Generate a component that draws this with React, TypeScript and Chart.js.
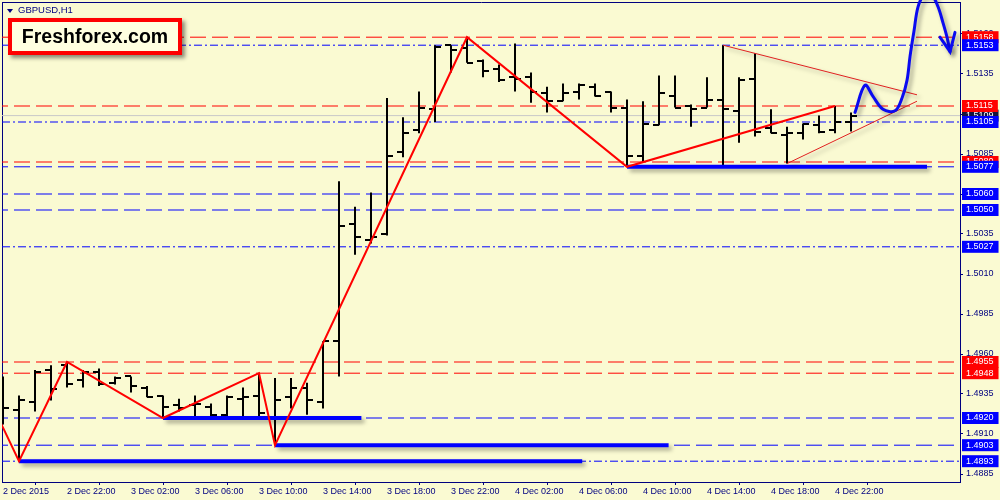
import React, { useEffect, useRef } from 'react';
import { Chart, registerables } from 'chart.js';

Chart.register(...registerables);

// ---- data: hourly GBPUSD bars (bar index 0 = 2 Dec 18:00) ----
const opens = [1.4931, 1.4925, 1.4930, 1.4950, 1.4953, 1.4944, 1.4949, 1.4942, 1.4946, 1.4939,
  1.4934, 1.4928, 1.4928, 1.4927, 1.4922, 1.4932, 1.4934, 1.4920, 1.4933, 1.4939,
  1.4930, 1.4968, 1.5041, 1.5031, 1.5035, 1.5086, 1.5100, 1.5113, 1.5153, 1.5151,
  1.5143, 1.5138, 1.5133, 1.5133, 1.5123, 1.5118, 1.5124, 1.5127, 1.5124, 1.5114,
  1.5084, 1.5103, 1.5121, 1.5115, 1.5114, 1.5119, 1.5112, 1.5132, 1.5101, 1.5097,
  1.5098, 1.5103, 1.5100, 1.5105];
const highs = [1.4946, 1.4934, 1.4950, 1.4953, 1.4955, 1.4950, 1.4951, 1.4946, 1.4946, 1.4940,
  1.4934, 1.4932, 1.4934, 1.4929, 1.4934, 1.4939, 1.4948, 1.4945, 1.4945, 1.4942,
  1.4968, 1.5068, 1.5052, 1.5061, 1.5120, 1.5108, 1.5124, 1.5153, 1.5153, 1.5158,
  1.5144, 1.5141, 1.5154, 1.5136, 1.5127, 1.5129, 1.5129, 1.5129, 1.5124, 1.5119,
  1.5118, 1.5134, 1.5134, 1.5116, 1.5133, 1.5153, 1.5133, 1.5148, 1.5113, 1.5102,
  1.5104, 1.5109, 1.5115, 1.5111];
const lows = [1.4916, 1.4893, 1.4924, 1.4931, 1.4939, 1.4939, 1.4940, 1.4941, 1.4936, 1.4933,
  1.4920, 1.4924, 1.4921, 1.4921, 1.4921, 1.4921, 1.4919, 1.4903, 1.4926, 1.4922,
  1.4926, 1.4946, 1.5022, 1.5029, 1.5034, 1.5083, 1.5098, 1.5105, 1.5136, 1.5142,
  1.5133, 1.5130, 1.5124, 1.5117, 1.5111, 1.5118, 1.5119, 1.5121, 1.5111, 1.5077,
  1.5080, 1.5103, 1.5114, 1.5102, 1.5114, 1.5078, 1.5092, 1.5096, 1.5098, 1.5079,
  1.5094, 1.5098, 1.5098, 1.5099];
const closes = [1.4926, 1.4931, 1.4949, 1.4938, 1.4941, 1.4949, 1.4941, 1.4945, 1.4940, 1.4933,
  1.4927, 1.4926, 1.4929, 1.4922, 1.4933, 1.4933, 1.4923, 1.4931, 1.4939, 1.4931,
  1.4968, 1.5040, 1.5033, 1.5033, 1.5084, 1.5098, 1.5114, 1.5152, 1.5150, 1.5142,
  1.5137, 1.5131, 1.5132, 1.5124, 1.5118, 1.5123, 1.5128, 1.5121, 1.5114, 1.5084,
  1.5104, 1.5123, 1.5114, 1.5113, 1.5119, 1.5113, 1.5131, 1.5099, 1.5098, 1.5098,
  1.5104, 1.5099, 1.5105, 1.5109];

// time axis labels (every 4 bars)
const xTickBars = [0, 4, 8, 12, 16, 20, 24, 28, 32, 36, 40, 44, 48, 52];
const xTickLabels = ['2 Dec 2015', '2 Dec 22:00', '3 Dec 02:00', '3 Dec 06:00', '3 Dec 10:00',
  '3 Dec 14:00', '3 Dec 18:00', '3 Dec 22:00', '4 Dec 02:00', '4 Dec 06:00', '4 Dec 10:00',
  '4 Dec 14:00', '4 Dec 18:00', '4 Dec 22:00'];

// price axis ticks
const yTickValues = [1.5160, 1.5135, 1.5110, 1.5085, 1.5060, 1.5035, 1.5010, 1.4985,
  1.4960, 1.4935, 1.4910, 1.4885];

// horizontal levels
const redLevels = [1.5158, 1.5115, 1.5080, 1.4955, 1.4948];
const blueDashLevels = [1.5077, 1.5060, 1.5050, 1.4920, 1.4903];
const blueDashDotLevels = [1.5153, 1.5105, 1.5027, 1.4893];
const bidLevel = 1.5109;

// thick blue support segments
const supportPrices = [1.4893, 1.4920, 1.4903, 1.5077];
const supportStartBars = [1, 10, 17, 39];
const supportEndBars = [36.2, 22.4, 41.6, 57.75];

// zigzag
const zigzagBars = [-1, 1, 4, 10, 16, 17, 29, 39, 52];
const zigzagPrices = [1.4935, 1.4893, 1.4955, 1.4920, 1.4948, 1.4903, 1.5158, 1.5077, 1.5115];

// triangle
const triUpperBars = [45, 57.125];
const triUpperPrices = [1.5153, 1.5122];
const triLowerBars = [49, 57.125];
const triLowerPrices = [1.5079, 1.5118];

// hand-drawn forecast
const forecastBars = [53.25, 53.875, 54.375, 55.0, 55.75, 56.19, 56.5, 56.69, 56.94, 57.19,
  57.56, 58.06, 58.44, 58.75, 59.0, 59.19];
const forecastPrices = [1.5111, 1.5128, 1.5121, 1.5113, 1.5112, 1.5120, 1.5131, 1.5146, 1.5162,
  1.5177, 1.5184, 1.5184, 1.5177, 1.5167, 1.5158, 1.5149];
const arrowBars = [58.56, 59.19, 59.5];
const arrowPrices = [1.5158, 1.5149, 1.5161];

const symbolTitle = 'GBPUSD,H1';
const brandText = 'Freshforex.com';

const X_MIN = -0.0625;
const X_MAX = 59.8125;
const Y_MIN = 1.488;
const Y_MAX = 1.518;
const NAVY = '#000080';
const BG = '#FAFAD2';
const FONT = "'Liberation Sans', Arial, sans-serif";

export default function App() {
  const ref = useRef<HTMLCanvasElement | null>(null);

  useEffect(() => {
    const canvas = ref.current;
    if (!canvas) return;

    const mkTick = (left: boolean) => {
      const c = document.createElement('canvas');
      c.width = 12;
      c.height = 2;
      const g = c.getContext('2d')!;
      g.fillStyle = '#000000';
      g.fillRect(left ? 0 : 6, 0, 6, 2);
      return c;
    };
    const openStyle = mkTick(true);
    const closeStyle = mkTick(false);

    const base = { xAxisID: 'x', yAxisID: 'y' };
    const ds: any[] = [];
    const hline = (p: number, color: string, dash: number[]) => ({
      ...base, type: 'line', data: [{ x: X_MIN - 2, y: p }, { x: X_MAX + 2, y: p }],
      borderColor: color, borderWidth: 1, borderDash: dash, pointRadius: 0, fill: false,
    });
    redLevels.forEach((p) => ds.push(hline(p, '#FF0000', [16, 6])));
    blueDashLevels.forEach((p) => ds.push(hline(p, '#0000FF', [16, 6])));
    blueDashDotLevels.forEach((p) => ds.push(hline(p, '#0000FF', [8, 3, 2, 3])));
    ds.push(hline(bidLevel, '#C8C8C8', []));

    // OHLC bars
    ds.push({
      ...base, type: 'bar',
      data: highs.map((h, i) => ({ x: i, y: [lows[i], h] })),
      backgroundColor: '#000000', borderWidth: 0, barThickness: 2, inflateAmount: 0,
    });
    ds.push({
      ...base, type: 'line', showLine: false,
      data: opens.map((o, i) => ({ x: i, y: o })),
      pointStyle: openStyle, pointRadius: 3,
    });
    ds.push({
      ...base, type: 'line', showLine: false,
      data: closes.map((c, i) => ({ x: i, y: c })),
      pointStyle: closeStyle, pointRadius: 3,
    });

    // thick support lines
    supportPrices.forEach((p, k) => ds.push({
      ...base, type: 'line',
      data: [{ x: supportStartBars[k], y: p }, { x: supportEndBars[k], y: p }],
      borderColor: '#0000FF', borderWidth: 4, pointRadius: 0, borderCapStyle: 'butt', shadow: true,
    }));

    // zigzag
    ds.push({
      ...base, type: 'line',
      data: zigzagBars.map((b, k) => ({ x: b, y: zigzagPrices[k] })),
      borderColor: '#FF0000', borderWidth: 2, pointRadius: 0,
    });

    // triangle
    ds.push({
      ...base, type: 'line',
      data: triUpperBars.map((b, k) => ({ x: b, y: triUpperPrices[k] })),
      borderColor: '#E02020', borderWidth: 1, pointRadius: 0, shadow: true,
    });
    ds.push({
      ...base, type: 'line',
      data: triLowerBars.map((b, k) => ({ x: b, y: triLowerPrices[k] })),
      borderColor: '#E02020', borderWidth: 1, pointRadius: 0, shadow: true,
    });

    // forecast curve + arrow
    ds.push({
      ...base, type: 'line',
      data: forecastBars.map((b, k) => ({ x: b, y: forecastPrices[k] })),
      borderColor: '#0A0AF0', borderWidth: 3, pointRadius: 0, tension: 0.35,
      clip: false, shadow: true, borderJoinStyle: 'round', borderCapStyle: 'round',
    });
    ds.push({
      ...base, type: 'line',
      data: arrowBars.map((b, k) => ({ x: b, y: arrowPrices[k] })),
      borderColor: '#0A0AF0', borderWidth: 3, pointRadius: 0,
      clip: false, shadow: true, borderCapStyle: 'round',
    });

    const n = ds.length;
    ds.forEach((d, i) => { d.order = n - i; });

    const shadowPlugin = {
      id: 'mtShadows',
      beforeDatasetDraw(chart: any, args: any) {
        const d = chart.data.datasets[args.index];
        if (d && d.shadow) {
          const ctx = chart.ctx;
          ctx.save();
          ctx.shadowColor = 'rgba(0,0,0,0.35)';
          ctx.shadowBlur = 4;
          ctx.shadowOffsetX = 3;
          ctx.shadowOffsetY = 3;
        }
      },
      afterDatasetDraw(chart: any, args: any) {
        const d = chart.data.datasets[args.index];
        if (d && d.shadow) chart.ctx.restore();
      },
    };

    const yTicksAll = [
      ...yTickValues.map((v) => ({ value: v })),
      { value: bidLevel, bg: '#14143C' },
      ...redLevels.map((v) => ({ value: v, bg: '#FF0000' })),
      ...blueDashDotLevels.map((v) => ({ value: v, bg: '#0000FF' })),
      ...blueDashLevels.map((v) => ({ value: v, bg: '#0000FF' })),
    ];

    const chart = new Chart(canvas, {
      type: 'line',
      data: { datasets: ds },
      options: {
        responsive: false,
        animation: false,
        events: [],
        layout: { padding: 0, autoPadding: false },
        plugins: { legend: { display: false }, tooltip: { enabled: false }, title: { display: false } },
        scales: {
          x: {
            type: 'linear', position: 'bottom', min: X_MIN, max: X_MAX, offset: false,
            afterBuildTicks: (s: any) => { s.ticks = xTickBars.map((v) => ({ value: v })); },
            afterFit: (s: any) => { s.height = 18; s.paddingLeft = 0; s.paddingRight = 0; },
            ticks: {
              autoSkip: false, maxRotation: 0, minRotation: 0, align: 'start', padding: 1,
              color: NAVY, font: { family: FONT, size: 9 },
              callback: (_v: any, idx: number) => xTickLabels[idx],
            },
            grid: { display: true, drawOnChartArea: false, drawTicks: true, tickLength: 3, tickColor: NAVY, tickWidth: 1 },
            border: { display: true, color: NAVY, width: 1 },
          },
          xTop: {
            type: 'linear', position: 'top', min: X_MIN, max: X_MAX,
            afterFit: (s: any) => { s.height = 2; s.paddingLeft = 0; s.paddingRight = 0; },
            ticks: { display: false },
            grid: { display: false, drawTicks: false },
            border: { display: true, color: NAVY, width: 1 },
          },
          y: {
            type: 'linear', position: 'right', min: Y_MIN, max: Y_MAX,
            afterBuildTicks: (s: any) => { s.ticks = yTicksAll.map((t) => ({ ...t })); },
            afterFit: (s: any) => { s.width = 40; s.paddingTop = 0; s.paddingBottom = 0; },
            ticks: {
              autoSkip: false, padding: 3,
              font: { family: FONT, size: 9 },
              color: (c: any) => (c.tick && c.tick.bg ? '#FFFFFF' : NAVY),
              showLabelBackdrop: (c: any) => !!(c.tick && c.tick.bg),
              backdropColor: (c: any) => (c.tick && c.tick.bg ? c.tick.bg : 'rgba(0,0,0,0)'),
              backdropPadding: { left: 4, right: 5, top: 0.6, bottom: 0.6 },
              callback: (v: any) => Number(v).toFixed(4),
            },
            grid: {
              display: true, drawOnChartArea: false, drawTicks: true, tickLength: 3, tickWidth: 1,
              tickColor: (c: any) => (c.tick && c.tick.bg ? 'rgba(0,0,0,0)' : NAVY),
            },
            border: { display: true, color: NAVY, width: 1 },
          },
          yLeft: {
            type: 'linear', position: 'left', min: Y_MIN, max: Y_MAX,
            afterFit: (s: any) => { s.width = 2; s.paddingTop = 0; s.paddingBottom = 0; },
            ticks: { display: false },
            grid: { display: false, drawTicks: false },
            border: { display: true, color: NAVY, width: 1 },
          },
        },
      } as any,
      plugins: [shadowPlugin],
    } as any);

    return () => chart.destroy();
  }, []);

  return (
    <div style={{ position: 'absolute', left: 0, top: 0, width: 1000, height: 500, background: BG, overflow: 'hidden' }}>
      <canvas ref={ref} width={1000} height={500} style={{ position: 'absolute', left: 0, top: 0, width: 1000, height: 500 }} />
      <div style={{
        position: 'absolute', left: 7, top: 9, width: 0, height: 0,
        borderLeft: '3.5px solid transparent', borderRight: '3.5px solid transparent', borderTop: `4px solid ${NAVY}`,
      }} />
      <div style={{
        position: 'absolute', left: 18, top: 4, fontFamily: FONT, fontSize: 9.5, lineHeight: '12px', color: NAVY,
        whiteSpace: 'nowrap',
      }}>{symbolTitle}</div>
      <div style={{
        position: 'absolute', left: 8, top: 18, width: 174, height: 37, boxSizing: 'border-box',
        border: '4px solid #FF0000', background: '#FFFFE0', boxShadow: '3px 3px 4px rgba(0,0,0,0.45)',
        display: 'flex', alignItems: 'center', justifyContent: 'center',
        fontFamily: FONT, fontWeight: 'bold', fontSize: 19.5, color: '#000000', whiteSpace: 'nowrap',
      }}>{brandText}</div>
    </div>
  );
}
